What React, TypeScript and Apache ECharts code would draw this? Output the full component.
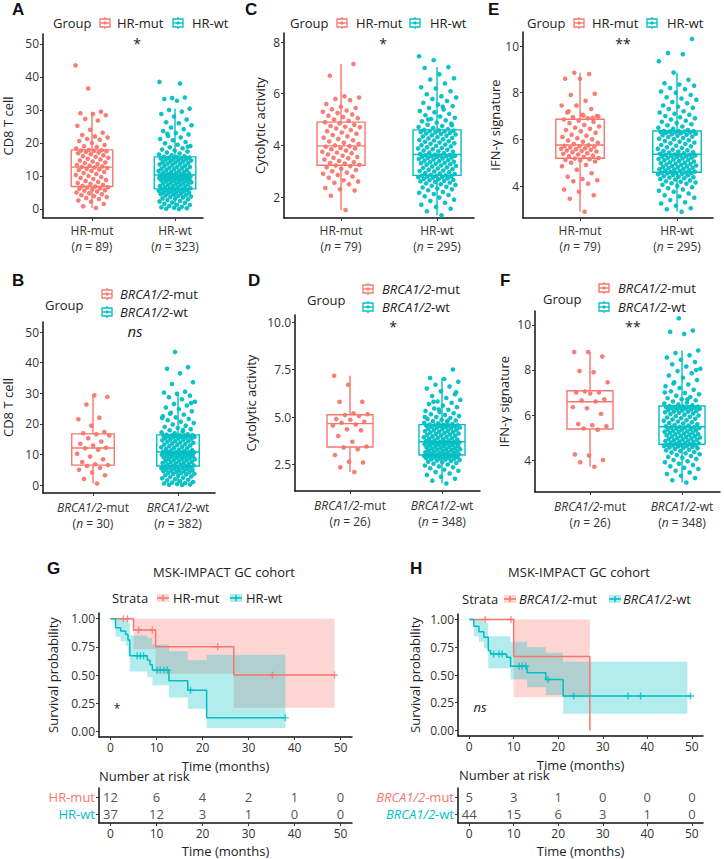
import React, { useEffect, useRef } from "react";
import * as echarts from "echarts";

const RED = "#F8766D";
const TEAL = "#00BFC4";
const FONT = "Open Sans";

// ---------- group labels ----------
const hrGroups = ["HR-mut", "HR-wt"];
const brcaGroups = ["BRCA1/2-mut", "BRCA1/2-wt"];
const nCd8Hr = [89, 323];
const nHr = [79, 295];
const nCd8Brca = [30, 382];
const nBrca = [26, 348];

// ---------- box stats [min, q1, median, q3, max] ----------
const cd8HrMutBox = [0.3, 6.8, 12.7, 17.9, 29.5];
const cd8HrWtBox = [0, 6.1, 10.3, 15.8, 30.4];
const cytHrMutBox = [1.5, 3.23, 3.98, 4.9, 7.15];
const cytHrWtBox = [1.3, 2.84, 3.65, 4.6, 7.03];
const ifnHrMutBox = [2.9, 5.19, 5.76, 6.86, 8.85];
const ifnHrWtBox = [2.9, 4.59, 5.36, 6.36, 8.86];
const cd8BrcaMutBox = [0.5, 6.5, 12.1, 16.7, 29.3];
const cd8BrcaWtBox = [0, 6.2, 10.8, 16.4, 30.5];
const cytBrcaMutBox = [2.1, 3.42, 4.65, 5.12, 7.17];
const cytBrcaWtBox = [1.5, 3.0, 3.7, 4.6, 7.05];
const ifnBrcaMutBox = [3.7, 5.38, 6.59, 7.08, 8.8];
const ifnBrcaWtBox = [3.0, 4.7, 5.48, 6.4, 8.87];

// ---------- points ----------
const cd8HrMut = [0.3,0.8,1.5,2.2,2.6,3.0,3.3,3.6,3.9,4.2,4.5,4.8,5.0,5.3,5.5,5.7,5.9,6.1,6.3,6.5,6.6,6.8,
  7.0,7.3,7.6,7.9,8.2,8.5,8.8,9.1,9.4,9.7,10.0,10.3,10.6,10.9,11.2,11.5,11.8,12.0,12.2,12.4,12.6,12.7,
  12.9,13.1,13.3,13.6,13.9,14.1,14.4,14.7,15.0,15.2,15.5,15.8,16.0,16.3,16.6,16.9,17.1,17.3,17.5,17.6,17.7,17.8,17.9,
  18.3,18.8,19.0,19.4,20.0,20.6,21.0,21.2,21.7,22.0,22.4,23.1,24.0,25.2,26.8,27.3,28.4,28.8,29.0,29.5,36.5,43.5];
const cd8HrWt = [0.0,0.1,0.2,0.4,0.5,0.7,0.9,1.2,1.3,1.6,1.9,2.0,2.3,2.4,2.7,2.9,3.1,3.2,3.5,3.6,3.8,3.9,4.1,4.2,4.4,4.5,4.6,4.8,4.9,5.0,5.1,5.3,5.4,5.5,5.6,5.7,5.8,5.9,6.0,6.0,
  6.2,6.3,6.5,6.6,6.8,6.9,7.0,7.2,7.3,7.5,7.6,7.7,7.9,8.0,8.1,8.2,8.4,8.5,8.6,8.7,8.8,8.9,9.0,9.1,9.2,9.3,9.4,9.4,9.5,9.6,9.7,9.8,9.8,9.9,10.0,10.0,10.1,10.2,10.2,10.3,
  10.4,10.5,10.6,10.8,10.9,11.0,11.2,11.3,11.5,11.6,11.8,11.9,12.1,12.2,12.4,12.5,12.7,12.8,13.0,13.1,13.3,13.5,13.6,13.8,13.9,14.1,14.2,14.4,14.5,14.7,14.8,15.0,15.1,15.2,15.3,15.4,15.5,15.6,15.7,15.8,
  16.0,16.3,16.5,16.8,17.1,17.4,17.7,18.0,18.4,18.7,19.1,19.5,19.9,20.3,20.8,21.2,21.7,22.1,22.6,23.0,23.6,24.2,24.7,25.4,26.0,26.3,27.1,28.0,28.8,29.5,30.0,30.4,32.8,33.3,33.8,33.6,38.5,38.0,22.8,18.9];
const cytHrMut = [1.5,2.05,2.25,2.3,2.35,2.5,2.55,2.6,2.65,2.75,2.8,2.85,2.9,2.95,3.0,3.05,3.1,3.15,3.2,3.22,
  3.25,3.3,3.32,3.35,3.4,3.45,3.5,3.52,3.55,3.6,3.65,3.7,3.72,3.75,3.8,3.85,3.88,3.9,3.95,3.97,
  4.0,4.05,4.1,4.15,4.2,4.25,4.3,4.35,4.4,4.45,4.5,4.55,4.6,4.65,4.7,4.72,4.75,4.8,4.85,4.9,
  4.95,5.0,5.05,5.1,5.15,5.2,5.25,5.3,5.35,5.4,5.45,5.5,5.6,5.75,5.8,5.85,5.9,6.7,7.15];
const cytHrWt = [1.3,1.45,1.55,1.62,1.7,1.78,1.85,1.9,1.98,2.03,2.08,2.12,2.17,2.2,2.26,2.3,2.33,2.37,2.4,2.44,2.47,2.5,2.53,2.55,2.58,2.61,2.63,2.65,2.67,2.69,2.71,2.73,2.75,2.77,2.78,2.8,2.81,2.82,2.83,2.84,
  2.86,2.89,2.91,2.93,2.96,2.99,3.01,3.03,3.06,3.08,3.11,3.13,3.15,3.18,3.2,3.22,3.25,3.27,3.29,3.31,3.33,3.35,3.37,3.39,3.41,3.43,3.45,3.47,3.49,3.51,3.53,3.55,3.56,3.58,3.59,3.6,3.61,3.62,3.63,3.64,
  3.67,3.7,3.72,3.75,3.77,3.8,3.83,3.85,3.88,3.9,3.93,3.96,3.98,4.01,4.03,4.06,4.08,4.11,4.14,4.16,4.19,4.21,4.24,4.27,4.29,4.32,4.34,4.37,4.39,4.42,4.44,4.46,4.48,4.5,4.52,4.54,4.56,4.57,4.58,4.6,
  4.63,4.67,4.71,4.75,4.8,4.84,4.88,4.93,4.97,5.02,5.07,5.12,5.17,5.22,5.28,5.33,5.39,5.45,5.52,5.58,5.65,5.72,5.8,5.85,5.9,5.98,6.1,6.2,6.25,6.4,6.55,6.6,6.75,7.0,7.03,7.3,7.45,5.5,5.0,4.78];
const ifnHrMut = [2.9,3.45,3.6,3.75,3.85,4.1,4.2,4.25,4.3,4.4,4.55,4.7,4.85,4.9,5.0,5.05,5.1,5.12,5.15,5.18,
  5.2,5.24,5.28,5.3,5.35,5.38,5.4,5.45,5.48,5.5,5.52,5.55,5.58,5.6,5.62,5.65,5.68,5.7,5.72,5.75,
  5.8,5.85,5.9,5.95,6.0,6.05,6.1,6.15,6.2,6.28,6.35,6.4,6.45,6.5,6.55,6.62,6.7,6.75,6.8,6.85,
  6.9,6.95,7.0,7.05,7.15,7.3,7.45,7.45,7.65,7.9,7.95,8.6,8.6,8.8,8.85,6.98,7.02,7.2,6.92];
const ifnHrWt = [2.9,3.0,3.05,3.15,3.25,3.3,3.4,3.5,3.55,3.6,3.68,3.75,3.8,3.85,3.9,3.95,4.0,4.05,4.1,4.12,4.15,4.18,4.2,4.24,4.28,4.3,4.33,4.36,4.38,4.4,4.42,4.45,4.47,4.5,4.52,4.54,4.55,4.56,4.57,4.58,
  4.6,4.62,4.64,4.66,4.68,4.7,4.72,4.74,4.76,4.78,4.8,4.82,4.84,4.86,4.88,4.9,4.92,4.94,4.96,4.98,5.0,5.02,5.05,5.07,5.1,5.12,5.14,5.16,5.18,5.2,5.22,5.24,5.26,5.28,5.3,5.31,5.32,5.33,5.34,5.35,
  5.38,5.4,5.43,5.45,5.48,5.5,5.53,5.56,5.6,5.63,5.66,5.7,5.73,5.76,5.8,5.83,5.86,5.9,5.93,5.96,6.0,6.03,6.06,6.1,6.12,6.15,6.18,6.2,6.22,6.24,6.26,6.28,6.3,6.31,6.32,6.33,6.34,6.35,6.35,6.36,
  6.4,6.45,6.5,6.55,6.6,6.65,6.7,6.75,6.8,6.85,6.9,6.95,7.0,7.05,7.1,7.15,7.2,7.3,7.35,7.4,7.45,7.55,7.6,7.7,7.75,7.8,7.9,8.0,8.05,8.15,8.2,8.3,8.35,8.4,8.55,8.86,9.35,9.65,9.7,10.3];
const cd8BrcaMut = [0.5,2.0,3.2,4.1,5.0,5.6,6.2,6.5,6.8,7.5,8.4,9.3,10.2,11.5,12.0,12.2,12.9,13.5,14.2,15.3,16.2,16.6,16.9,17.3,19.4,21.5,22.0,26.3,28.8,29.3];
const cd8BrcaWt = [0.0,0.1,0.2,0.3,0.5,0.6,0.8,1.0,1.2,1.5,1.7,1.9,2.2,2.4,2.6,2.8,3.0,3.2,3.4,3.6,3.7,3.9,4.0,4.2,4.3,4.5,4.6,4.7,4.9,5.0,5.1,5.3,5.4,5.5,5.6,5.7,5.8,5.9,6.0,6.1,
  6.3,6.4,6.6,6.7,6.9,7.0,7.2,7.3,7.5,7.6,7.8,7.9,8.1,8.2,8.4,8.5,8.6,8.8,8.9,9.0,9.1,9.3,9.4,9.5,9.6,9.7,9.8,9.9,10.0,10.1,10.2,10.3,10.4,10.5,10.5,10.6,10.6,10.7,10.7,10.8,
  10.9,11.1,11.3,11.4,11.6,11.8,12.0,12.2,12.3,12.5,12.7,12.9,13.1,13.2,13.4,13.6,13.8,13.9,14.1,14.3,14.4,14.6,14.8,14.9,15.1,15.2,15.4,15.5,15.6,15.7,15.8,15.9,16.0,16.1,16.1,16.2,16.2,16.3,16.3,16.4,
  16.6,16.9,17.2,17.5,17.9,18.2,18.6,19.0,19.4,19.8,20.3,20.7,21.2,21.6,22.1,22.5,23.0,23.6,24.1,24.8,25.3,26.0,26.5,27.2,28.0,28.7,29.2,29.8,30.2,30.5,33.0,33.6,36.5,38.0,38.5,43.5,21.9,18.0,23.3,26.8];
const cytBrcaMut = [2.1,2.35,2.6,2.65,3.0,3.3,3.4,3.45,3.7,4.0,4.3,4.35,4.55,4.6,4.7,4.75,4.85,4.9,5.05,5.1,5.15,5.2,5.8,5.8,6.7,7.17];
const cytBrcaWt = [1.5,1.65,1.75,1.85,1.95,2.03,2.1,2.17,2.23,2.3,2.35,2.4,2.45,2.5,2.54,2.58,2.62,2.65,2.68,2.71,2.74,2.76,2.78,2.8,2.82,2.84,2.86,2.88,2.9,2.91,2.92,2.93,2.94,2.95,2.96,2.97,2.98,2.99,3.0,3.0,
  3.02,3.04,3.06,3.08,3.1,3.12,3.14,3.16,3.18,3.2,3.22,3.24,3.26,3.28,3.3,3.32,3.34,3.36,3.38,3.4,3.42,3.44,3.46,3.48,3.5,3.52,3.54,3.56,3.58,3.6,3.61,3.62,3.63,3.64,3.65,3.66,3.67,3.68,3.69,3.7,
  3.73,3.76,3.78,3.81,3.83,3.86,3.88,3.91,3.93,3.96,3.98,4.01,4.03,4.06,4.08,4.11,4.13,4.16,4.18,4.21,4.23,4.26,4.28,4.31,4.33,4.36,4.38,4.41,4.43,4.45,4.47,4.49,4.51,4.53,4.54,4.55,4.56,4.57,4.58,4.6,
  4.63,4.67,4.7,4.74,4.78,4.82,4.86,4.9,4.95,5.0,5.05,5.1,5.15,5.2,5.26,5.32,5.38,5.45,5.52,5.6,5.68,5.75,5.82,5.9,6.0,6.1,6.2,6.35,6.5,6.6,6.7,6.85,7.0,7.05,7.5,5.4,5.0,4.8,5.8,6.3];
const ifnBrcaMut = [3.7,3.9,4.0,4.2,4.25,5.35,5.4,5.5,5.55,5.6,6.05,6.3,6.35,6.6,6.65,6.7,6.95,7.0,7.0,7.05,7.45,7.9,7.95,8.6,8.8,8.8];
const ifnBrcaWt = [3.0,3.1,3.2,3.3,3.38,3.45,3.52,3.6,3.66,3.72,3.78,3.84,3.9,3.95,4.0,4.05,4.1,4.14,4.18,4.22,4.26,4.3,4.33,4.36,4.4,4.43,4.46,4.49,4.52,4.54,4.56,4.58,4.6,4.62,4.63,4.65,4.66,4.67,4.68,4.7,
  4.72,4.74,4.76,4.78,4.8,4.82,4.84,4.86,4.88,4.9,4.92,4.94,4.96,4.98,5.0,5.02,5.04,5.06,5.08,5.1,5.12,5.14,5.16,5.18,5.2,5.22,5.24,5.26,5.28,5.3,5.32,5.34,5.36,5.38,5.4,5.42,5.44,5.45,5.46,5.47,
  5.5,5.53,5.56,5.59,5.62,5.65,5.68,5.71,5.74,5.77,5.8,5.83,5.86,5.89,5.92,5.95,5.98,6.01,6.04,6.07,6.1,6.12,6.14,6.16,6.18,6.2,6.22,6.24,6.26,6.28,6.3,6.31,6.32,6.33,6.34,6.35,6.36,6.37,6.38,6.4,
  6.43,6.47,6.51,6.55,6.6,6.65,6.7,6.75,6.8,6.86,6.92,6.98,7.05,7.12,7.2,7.28,7.36,7.45,7.55,7.65,7.75,7.85,7.95,8.05,8.15,8.25,8.35,8.45,8.55,8.65,8.75,8.87,9.6,9.7,9.75,10.3,7.0,6.7,7.4,8.0];

// ---------- Kaplan-Meier ----------
const kmHrMut = [[0, 1], [5, 0.9], [9.8, 0.75], [26.8, 0.5], [48.7, 0.5]];
const kmHrMutCens = [[2.8, 1], [3.7, 1], [6.1, 0.9], [9.1, 0.9], [23.3, 0.75], [35.2, 0.5], [48.7, 0.5]];
const kmHrMutCI = [[5, 9.8, 0.73, 1.0], [9.8, 26.8, 0.51, 1.0], [26.8, 48.7, 0.21, 1.0]];
const kmHrWt = [[0, 1], [1.1, 0.92], [2.2, 0.89], [3.3, 0.86], [3.8, 0.81], [4.2, 0.67], [8.0, 0.63], [8.6, 0.59], [9.1, 0.545], [12.7, 0.45], [16.8, 0.365], [20.9, 0.12], [38, 0.12]];
const kmHrWtCens = [[5.8, 0.67], [6.5, 0.67], [7.2, 0.67], [10.1, 0.545], [10.8, 0.545], [11.6, 0.545], [12.3, 0.545], [17.4, 0.365], [38, 0.12]];
const kmHrWtCI = [[1.1, 2.2, 0.84, 1.0], [2.2, 3.3, 0.8, 1.0], [3.3, 3.8, 0.76, 0.99], [3.8, 4.2, 0.7, 0.96], [4.2, 8.0, 0.53, 0.85], [8.0, 9.1, 0.48, 0.83], [9.1, 12.7, 0.41, 0.77], [12.7, 16.8, 0.3, 0.71], [16.8, 20.9, 0.2, 0.63], [20.9, 38, 0.03, 0.68]];

const kmBrcaMut = [[0, 1], [10, 0.667], [27.1, 0]];
const kmBrcaMutCens = [[3.6, 1], [9.4, 1]];
const kmBrcaMutCI = [[10, 27.1, 0.3, 1.0]];
const kmBrcaWt = [[0, 1], [1.05, 0.94], [2.2, 0.89], [3.3, 0.84], [4.3, 0.72], [4.8, 0.69], [8.4, 0.66], [9.3, 0.58], [13.0, 0.52], [17.2, 0.46], [21.1, 0.31], [49.7, 0.31]];
const kmBrcaWtCens = [[5.5, 0.69], [6.7, 0.69], [7.4, 0.69], [11.2, 0.58], [11.9, 0.58], [12.7, 0.58], [17.7, 0.46], [23.5, 0.31], [35.7, 0.31], [38.5, 0.31], [49.7, 0.31]];
const kmBrcaWtCI = [[1.05, 2.2, 0.85, 1.0], [2.2, 3.3, 0.8, 1.0], [3.3, 4.3, 0.74, 0.97], [4.3, 9.3, 0.56, 0.85], [9.3, 13.0, 0.46, 0.8], [13.0, 17.2, 0.39, 0.75], [17.2, 21.1, 0.32, 0.7], [21.1, 49, 0.15, 0.62]];

const riskTimes = [0, 10, 20, 30, 40, 50];
const riskHrMut = [12, 6, 4, 2, 1, 0];
const riskHrWt = [37, 12, 3, 1, 0, 0];
const riskBrcaMut = [5, 3, 1, 0, 0, 0];
const riskBrcaWt = [44, 15, 6, 3, 1, 0];

// ---------- helpers ----------
const AXL = { show: true, onZero: false, lineStyle: { color: "#111", width: 1.5 } };
const jit = (i: number) => ((((i + 1) * 0.6180339887) % 1) - 0.5) * 0.4;
const PLUS = "path://M4,0h2v4h4v2h-4v4h-2v-4h-4v-2h4z";

function xLabelText(groups: string[], ns: number[], brca: boolean, v: number) {
  const idx = v < 1.5 ? 0 : 1;
  const name = groups[idx];
  let first = `{t|${name}}`;
  if (brca) {
    const k = name.lastIndexOf("-");
    first = `{i|${name.slice(0, k)}}{t|${name.slice(k)}}`;
  }
  return `${first}\n{t|(}{i|n}{t| = ${ns[idx]})}`;
}

function boxRender(params: any, api: any) {
  const x = api.value(0);
  const color = x < 1.5 ? RED : TEAL;
  const lo = api.coord([x, api.value(1)]);
  const q1 = api.coord([x, api.value(2)]);
  const md = api.coord([x, api.value(3)]);
  const q3 = api.coord([x, api.value(4)]);
  const hi = api.coord([x, api.value(5)]);
  const hw = Math.abs(api.coord([x + 0.25, 0])[0] - api.coord([x, 0])[0]);
  const st = { stroke: color, lineWidth: 1.4, fill: null };
  return {
    type: "group",
    children: [
      { type: "line", shape: { x1: hi[0], y1: hi[1], x2: q3[0], y2: q3[1] }, style: st },
      { type: "line", shape: { x1: q1[0], y1: q1[1], x2: lo[0], y2: lo[1] }, style: st },
      { type: "rect", shape: { x: q3[0] - hw, y: q3[1], width: 2 * hw, height: q1[1] - q3[1] }, style: { stroke: color, lineWidth: 1.4, fill: "#fff" } },
      { type: "line", shape: { x1: md[0] - hw, y1: md[1], x2: md[0] + hw, y2: md[1] }, style: st },
    ],
  };
}

function boxIcon(x: number, cy: number, color: string) {
  return [
    { type: "line", shape: { x1: x + 5, y1: cy - 6, x2: x + 5, y2: cy + 6 }, style: { stroke: color, lineWidth: 1.3 } },
    { type: "rect", shape: { x: x, y: cy - 4, width: 10, height: 8 }, style: { stroke: color, fill: "#fff", lineWidth: 1.3 } },
    { type: "line", shape: { x1: x, y1: cy, x2: x + 10, y2: cy }, style: { stroke: color, lineWidth: 1.3 } },
    { type: "circle", shape: { cx: x + 5, cy: cy, r: 1.6 }, style: { fill: color } },
  ];
}

function kmKey(x: number, cy: number, color: string) {
  return [
    { type: "rect", shape: { x: x, y: cy - 4, width: 12, height: 8 }, style: { fill: color, opacity: 0.3 } },
    { type: "line", shape: { x1: x, y1: cy, x2: x + 12, y2: cy }, style: { stroke: color, lineWidth: 1.6 } },
    { type: "line", shape: { x1: x + 6, y1: cy - 3, x2: x + 6, y2: cy + 3 }, style: { stroke: color, lineWidth: 1.4 } },
  ];
}

function txt(text: string, x: number, y: number, size: number, opts: any = {}) {
  return {
    type: "text",
    x,
    y,
    style: {
      text,
      fill: opts.fill || "#222",
      fontSize: size,
      fontFamily: opts.family || FONT,
      fontWeight: opts.weight || "normal",
      fontStyle: opts.italic ? "italic" : "normal",
      textAlign: opts.align || "left",
      textVerticalAlign: "middle",
      rich: opts.rich,
    },
  };
}

function legendLabel(name: string, brca: boolean) {
  if (!brca) return name;
  const k = name.lastIndexOf("-");
  return `{i|${name.slice(0, k)}}${name.slice(k)}`;
}

const boxPanels = [
  { letter: "A", lx: 12, ly: 9, grid: { left: 43, top: 34, width: 160, height: 184 }, xMin: 0.41, xMax: 2.337, yMin: -2.73, yMax: 53.03,
    yTicks: [0, 10, 20, 30, 40, 50], dec: 0, yName: "CD8 T cell", nameGap: 29, groups: hrGroups, ns: nCd8Hr, brca: false,
    mut: cd8HrMut, wt: cd8HrWt, mutBox: cd8HrMutBox, wtBox: cd8HrWtBox, sig: "*", sx: 137, sy: 43, lm: 4,
    leg: { gx: 53, gy: 23, e: [[100, 117, 23], [173, 192, 23]] } },
  { letter: "C", lx: 245, ly: 9, grid: { left: 284, top: 33, width: 190, height: 185 }, xMin: 0.406, xMax: 2.385, yMin: 1.19, yMax: 8.35,
    yTicks: [2, 4, 6, 8], dec: 0, yName: "Cytolytic activity", nameGap: 18, groups: hrGroups, ns: nHr, brca: false,
    mut: cytHrMut, wt: cytHrWt, mutBox: cytHrMutBox, wtBox: cytHrWtBox, sig: "*", sx: 383, sy: 43, lm: 4,
    leg: { gx: 290, gy: 23, e: [[337, 356, 23], [410, 430, 23]] } },
  { letter: "E", lx: 488, ly: 9, grid: { left: 523, top: 32, width: 190, height: 186 }, xMin: 0.412, xMax: 2.371, yMin: 2.63, yMax: 10.6,
    yTicks: [4, 6, 8, 10], dec: 0, yName: "IFN-γ signature", nameGap: 15, groups: hrGroups, ns: nHr, brca: false,
    mut: ifnHrMut, wt: ifnHrWt, mutBox: ifnHrMutBox, wtBox: ifnHrWtBox, sig: "**", sx: 623, sy: 43, lm: 4,
    leg: { gx: 527, gy: 23, e: [[574, 592, 23], [647, 667, 23]] } },
  { letter: "B", lx: 12, ly: 280, grid: { left: 43, top: 322, width: 172, height: 171 }, xMin: 0.412, xMax: 2.435, yMin: -2.61, yMax: 53.27,
    yTicks: [0, 10, 20, 30, 40, 50], dec: 0, yName: "CD8 T cell", nameGap: 29, groups: brcaGroups, ns: nCd8Brca, brca: true,
    mut: cd8BrcaMut, wt: cd8BrcaWt, mutBox: cd8BrcaMutBox, wtBox: cd8BrcaWtBox, sig: "ns", sx: 135, sy: 331, lm: 6,
    leg: { gx: 45, gy: 305, e: [[102, 120, 294], [102, 120, 312]] } },
  { letter: "D", lx: 248, ly: 280, grid: { left: 295, top: 315, width: 185, height: 176 }, xMin: 0.402, xMax: 2.413, yMin: 1.105, yMax: 10.37,
    yTicks: [2.5, 5, 7.5, 10], dec: 1, yName: "Cytolytic activity", nameGap: 38, groups: brcaGroups, ns: nBrca, brca: true,
    mut: cytBrcaMut, wt: cytBrcaWt, mutBox: cytBrcaMutBox, wtBox: cytBrcaWtBox, sig: "*", sx: 393, sy: 326, lm: 6,
    leg: { gx: 307, gy: 300, e: [[363, 382, 289], [363, 382, 307]] } },
  { letter: "F", lx: 500, ly: 280, grid: { left: 535, top: 311, width: 185, height: 181 }, xMin: 0.402, xMax: 2.413, yMin: 2.58, yMax: 10.62,
    yTicks: [4, 6, 8, 10], dec: 0, yName: "IFN-γ signature", nameGap: 25, groups: brcaGroups, ns: nBrca, brca: true,
    mut: ifnBrcaMut, wt: ifnBrcaWt, mutBox: ifnBrcaMutBox, wtBox: ifnBrcaWtBox, sig: "**", sx: 633, sy: 326, lm: 6,
    leg: { gx: 543, gy: 299, e: [[599, 618, 288], [599, 618, 307]] } },
];

const kmPanels = [
  { letter: "G", lx: 47, ly: 568, tx: 224, ty: 572, grid: { left: 99, top: 613, width: 253, height: 124 }, risk: { left: 99, top: 788, width: 253, height: 35 },
    groups: hrGroups, brca: false, mut: kmHrMut, mutC: kmHrMutCens, mutCI: kmHrMutCI, wt: kmHrWt, wtC: kmHrWtCens, wtCI: kmHrWtCI,
    rMut: riskHrMut, rWt: riskHrWt, nameGap: 40, sig: "*", sx: 117, sy: 708, nx: 99, ny: 776,
    leg: { sx: 112, cy: 598, e: [[157, 173], [230, 246]] } },
  { letter: "H", lx: 410, ly: 568, tx: 579, ty: 572, grid: { left: 458, top: 614, width: 245, height: 122 }, risk: { left: 458, top: 788, width: 245, height: 35 },
    groups: brcaGroups, brca: true, mut: kmBrcaMut, mutC: kmBrcaMutCens, mutCI: kmBrcaMutCI, wt: kmBrcaWt, wtC: kmBrcaWtCens, wtCI: kmBrcaWtCI,
    rMut: riskBrcaMut, rWt: riskBrcaWt, nameGap: 37, sig: "ns", sx: 480, sy: 707, nx: 459, ny: 775,
    leg: { sx: 462, cy: 599, e: [[504, 519], [609, 623]] } },
];

function buildOption() {
  const grid: any[] = [];
  const xAxis: any[] = [];
  const yAxis: any[] = [];
  const series: any[] = [];
  const graphic: any[] = [];
  const lblStyle = { color: "#333", fontSize: 12, fontFamily: FONT };
  const italicRich = { i: { fontStyle: "italic", fontSize: 13, fontFamily: FONT, fill: "#222", color: "#222" } };

  boxPanels.forEach((p, gi) => {
    grid.push({ ...p.grid });
    xAxis.push({
      type: "value", gridIndex: gi, min: p.xMin, max: p.xMax, axisLine: AXL, splitLine: { show: false },
      axisTick: { show: true, length: 3, customValues: [1, 2], lineStyle: { color: "#333" } },
      axisLabel: {
        customValues: [1, 2], margin: p.lm, formatter: (v: number) => xLabelText(p.groups, p.ns, p.brca, v),
        rich: {
          t: { fontSize: 12, color: "#333", fontFamily: FONT, lineHeight: 16 },
          i: { fontSize: 12, color: "#333", fontFamily: FONT, fontStyle: "italic", lineHeight: 16 },
        },
      },
    });
    yAxis.push({
      type: "value", gridIndex: gi, min: p.yMin, max: p.yMax, axisLine: AXL, splitLine: { show: false },
      axisTick: { show: true, length: 3, customValues: p.yTicks, lineStyle: { color: "#333" } },
      axisLabel: { ...lblStyle, customValues: p.yTicks, margin: 4, formatter: (v: number) => v.toFixed(p.dec) },
      name: p.yName, nameLocation: "middle", nameGap: p.nameGap,
      nameTextStyle: { fontSize: 13, color: "#222", fontFamily: FONT },
    });
    series.push({
      type: "custom", xAxisIndex: gi, yAxisIndex: gi, z: 2, silent: true,
      data: [[1, ...p.mutBox], [2, ...p.wtBox]], encode: { x: 0, y: [1, 2, 3, 4, 5] }, renderItem: boxRender,
    });
    series.push({
      type: "scatter", xAxisIndex: gi, yAxisIndex: gi, z: 3, silent: true, symbolSize: 4.6,
      itemStyle: { color: RED, opacity: 0.95 }, data: p.mut.map((v, i) => [1 + jit(i), v]),
    });
    series.push({
      type: "scatter", xAxisIndex: gi, yAxisIndex: gi, z: 3, silent: true, symbolSize: 4.6,
      itemStyle: { color: TEAL, opacity: 0.95 }, data: p.wt.map((v, i) => [2 + jit(i), v]),
    });
    graphic.push(txt(p.letter, p.lx, p.ly, 17, { weight: "bold", family: "Liberation Sans", fill: "#111" }));
    graphic.push(txt("Group", p.leg.gx, p.leg.gy, 13));
    p.leg.e.forEach((e, k) => {
      const col = k === 0 ? RED : TEAL;
      boxIcon(e[0], e[2], col).forEach((g) => graphic.push(g));
      graphic.push(txt(legendLabel(p.groups[k], p.brca), e[1], e[2], 13, { rich: italicRich }));
    });
    graphic.push(txt(p.sig, p.sx, p.sy, p.sig === "ns" ? 15 : 14, { align: "center", italic: p.sig === "ns" }));
  });

  kmPanels.forEach((p, k) => {
    const gi = 6 + k;
    grid.push({ ...p.grid });
    const ticks = [0, 10, 20, 30, 40, 50];
    xAxis.push({
      type: "value", gridIndex: gi, min: -2.5, max: 52.5, axisLine: AXL, splitLine: { show: false },
      axisTick: { show: true, length: 3, customValues: ticks, lineStyle: { color: "#333" } },
      axisLabel: { ...lblStyle, customValues: ticks, margin: 4 },
      name: "Time (months)", nameLocation: "middle", nameGap: 22,
      nameTextStyle: { fontSize: 13, color: "#222", fontFamily: FONT },
    });
    const yt = [0, 0.25, 0.5, 0.75, 1];
    yAxis.push({
      type: "value", gridIndex: gi, min: -0.05, max: 1.05, axisLine: AXL, splitLine: { show: false },
      axisTick: { show: true, length: 3, customValues: yt, lineStyle: { color: "#333" } },
      axisLabel: { ...lblStyle, customValues: yt, margin: 4, formatter: (v: number) => v.toFixed(2) },
      name: "Survival probability", nameLocation: "middle", nameGap: p.nameGap,
      nameTextStyle: { fontSize: 13, color: "#222", fontFamily: FONT },
    });
    const band = (bands: number[][], color: string) => ({
      type: "custom", xAxisIndex: gi, yAxisIndex: gi, z: 1, silent: true, data: bands,
      encode: { x: [0, 1], y: [2, 3] },
      renderItem: (params: any, api: any) => {
        if (params.dataIndex !== 0) return null;
        const top: number[][] = [];
        const bot: number[][] = [];
        bands.forEach((b) => {
          top.push(api.coord([b[0], b[3]]), api.coord([b[1], b[3]]));
          bot.push(api.coord([b[0], b[2]]), api.coord([b[1], b[2]]));
        });
        return { type: "polygon", shape: { points: top.concat(bot.reverse()) }, style: { fill: color, opacity: 0.3 } };
      },
    });
    series.push(band(p.mutCI, RED));
    series.push(band(p.wtCI, TEAL));
    const line = (d: number[][], color: string) => ({
      type: "line", xAxisIndex: gi, yAxisIndex: gi, z: 3, silent: true, step: "end", symbol: "none",
      lineStyle: { color, width: 1.5 }, data: d,
    });
    series.push(line(p.mut, RED));
    series.push(line(p.wt, TEAL));
    const cens = (d: number[][], color: string) => ({
      type: "scatter", xAxisIndex: gi, yAxisIndex: gi, z: 4, silent: true, symbol: PLUS, symbolSize: 7,
      itemStyle: { color }, data: d,
    });
    series.push(cens(p.mutC, RED));
    series.push(cens(p.wtC, TEAL));

    graphic.push(txt(p.letter, p.lx, p.ly, 17, { weight: "bold", family: "Liberation Sans", fill: "#111" }));
    graphic.push(txt("MSK-IMPACT GC cohort", p.tx, p.ty, 13, { align: "center" }));
    graphic.push(txt("Strata", p.leg.sx, p.leg.cy, 13));
    p.leg.e.forEach((e, j) => {
      const col = j === 0 ? RED : TEAL;
      kmKey(e[0], p.leg.cy, col).forEach((g) => graphic.push(g));
      graphic.push(txt(legendLabel(p.groups[j], p.brca), e[1], p.leg.cy, 13, { rich: italicRich }));
    });
    graphic.push(txt(p.sig, p.sx, p.sy, p.sig === "ns" ? 13 : 12, { align: "center", italic: p.sig === "ns" }));
    graphic.push(txt("Number at risk", p.nx, p.ny, 13));
  });

  // risk tables (grid 8, 9)
  kmPanels.forEach((p, k) => {
    const ri = 8 + k;
    grid.push({ ...p.risk });
    const ticks = [0, 10, 20, 30, 40, 50];
    xAxis.push({
      type: "value", gridIndex: ri, min: -2.5, max: 52.5, axisLine: AXL, splitLine: { show: false },
      axisTick: { show: true, length: 3, customValues: ticks, lineStyle: { color: "#333" } },
      axisLabel: { ...lblStyle, customValues: ticks, margin: 4 },
      name: "Time (months)", nameLocation: "middle", nameGap: 21,
      nameTextStyle: { fontSize: 13, color: "#222", fontFamily: FONT },
    });
    yAxis.push({
      type: "category", gridIndex: ri, inverse: true, data: p.groups, axisLine: AXL,
      axisTick: { show: true, length: 3, alignWithLabel: true, interval: 0, lineStyle: { color: "#333" } },
      axisLabel: {
        margin: 4,
        interval: 0,
        hideOverlap: false,
        formatter: (v: string, idx: number) => {
          const key = idx === 0 ? "m" : "w";
          if (!p.brca) return `{${key}|${v}}`;
          const c = v.lastIndexOf("-");
          return `{${key}i|${v.slice(0, c)}}{${key}|${v.slice(c)}}`;
        },
        rich: {
          m: { color: RED, fontSize: 13, fontFamily: FONT },
          mi: { color: RED, fontSize: 13, fontFamily: FONT, fontStyle: "italic" },
          w: { color: TEAL, fontSize: 13, fontFamily: FONT },
          wi: { color: TEAL, fontSize: 13, fontFamily: FONT, fontStyle: "italic" },
        },
      },
    });
    const rows = [p.rMut, p.rWt];
    rows.forEach((r, rowIdx) => {
      series.push({
        type: "scatter", xAxisIndex: ri, yAxisIndex: ri, silent: true, symbolSize: 1,
        itemStyle: { color: "rgba(0,0,0,0)" },
        label: { show: true, position: "inside", formatter: (q: any) => String(q.value[2]), color: "#222", fontSize: 13, fontFamily: FONT },
        data: riskTimes.map((t, j) => [t, rowIdx, r[j]]),
      });
    });
  });

  return {
    animation: false,
    backgroundColor: "#fff",
    textStyle: { fontFamily: FONT },
    grid, xAxis, yAxis, series, graphic,
  };
}

export default function App() {
  const ref = useRef<HTMLDivElement>(null);
  useEffect(() => {
    const chart = echarts.init(ref.current as HTMLDivElement, null, { renderer: "svg", width: 724, height: 859 });
    chart.setOption(buildOption() as any);
    return () => chart.dispose();
  }, []);
  return <div ref={ref} style={{ position: "absolute", left: 0, top: 0, width: 724, height: 859, background: "#fff" }} />;
}
